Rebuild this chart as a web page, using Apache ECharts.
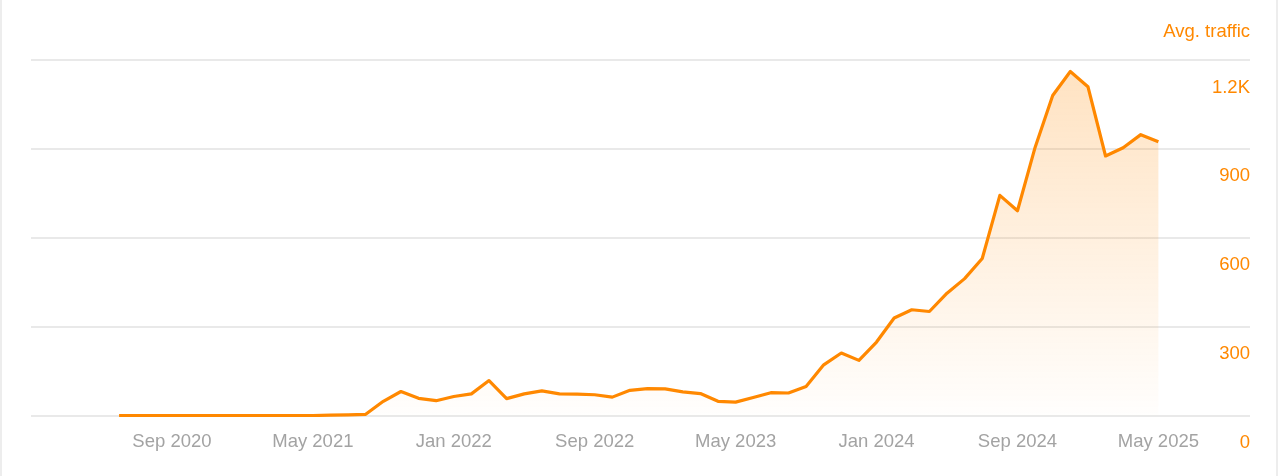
<!DOCTYPE html>
<html>
<head>
<meta charset="utf-8">
<script src="https://cdn.jsdelivr.net/npm/echarts@6/dist/echarts.min.js"></script>
<style>
  html, body { margin: 0; padding: 0; background: #fff; }
  #wrap { position: relative; width: 1280px; height: 476px; box-sizing: border-box; }
  #bl { position: absolute; left: 0; top: 0; width: 2px; height: 476px; background: #ededed; }
  #br { position: absolute; left: 1276px; top: 0; width: 2px; height: 476px; background: #ededed; }
  #chart { position: absolute; left: 0; top: 0; width: 1280px; height: 476px; }
</style>
</head>
<body>
<div id="wrap"><div id="chart"></div><div id="bl"></div><div id="br"></div></div>
<script>
// Monthly points, Jun 2020 .. May 2025
const months = [
  'Jun 2020','Jul 2020','Aug 2020','Sep 2020','Oct 2020','Nov 2020','Dec 2020',
  'Jan 2021','Feb 2021','Mar 2021','Apr 2021','May 2021','Jun 2021','Jul 2021','Aug 2021','Sep 2021','Oct 2021','Nov 2021','Dec 2021',
  'Jan 2022','Feb 2022','Mar 2022','Apr 2022','May 2022','Jun 2022','Jul 2022','Aug 2022','Sep 2022','Oct 2022','Nov 2022','Dec 2022',
  'Jan 2023','Feb 2023','Mar 2023','Apr 2023','May 2023','Jun 2023','Jul 2023','Aug 2023','Sep 2023','Oct 2023','Nov 2023','Dec 2023',
  'Jan 2024','Feb 2024','Mar 2024','Apr 2024','May 2024','Jun 2024','Jul 2024','Aug 2024','Sep 2024','Oct 2024','Nov 2024','Dec 2024',
  'Jan 2025','Feb 2025','Mar 2025','Apr 2025','May 2025'
];
const avgTraffic = [
  0,0,0,0,0,0,0,
  0,0,0,0,0,1,2,4,48,81,58,50,
  64,73,118,57,73,83,73,72,70,62,85,91,
  90,80,74,48,45,61,77,76,98,171,211,186,
  248,329,357,351,413,462,530,743,691,905,1080,1161,
  1110,876,904,948,924
];
// x-axis month index: 0 = Jan 2020
const firstMonthIndex = 5;
const xTickLabels = ['Sep 2020','May 2021','Jan 2022','Sep 2022','May 2023','Jan 2024','Sep 2024','May 2025'];
const xTickStep = 8;
const yTicks = [0, 300, 600, 900, 1200];
const seriesName = 'Avg. traffic';

const data = avgTraffic.map((v, i) => [firstMonthIndex + i, v]);

const chart = echarts.init(document.getElementById('chart'), null, { renderer: 'canvas' });
const FONT = 'Liberation Sans, Arial, sans-serif';
chart.setOption({
  animation: false,
  title: {
    text: seriesName,
    right: 30,
    top: 22.5,
    padding: 0,
    textStyle: { color: '#ff8800', fontFamily: FONT, fontSize: 18.5, fontWeight: 'normal' }
  },
  grid: { left: 31, right: 30, top: 60, bottom: 60.5, containLabel: false, outerBoundsMode: 'none' },
  xAxis: {
    type: 'value',
    min: 0,
    max: 69.2,
    interval: xTickStep,
    axisLine: { show: false },
    axisTick: { show: false },
    splitLine: { show: false },
    axisLabel: {
      color: '#a3a3a3',
      fontFamily: FONT,
      fontSize: 18.5,
      margin: 17,
      showMinLabel: true,
      showMaxLabel: true,
      formatter: function (v) {
        if (v % xTickStep !== 0) return '';
        const j = v / xTickStep - 1;
        return (j >= 0 && j < xTickLabels.length) ? xTickLabels[j] : '';
      }
    }
  },
  yAxis: {
    type: 'value',
    position: 'right',
    min: yTicks[0],
    max: yTicks[yTicks.length - 1],
    interval: 300,
    axisLine: { show: false },
    axisTick: { show: false },
    splitLine: { show: true, lineStyle: { color: '#e9e9e9', width: 2 } },
    axisLabel: {
      inside: true,
      margin: 0,
      color: '#ff8800',
      fontFamily: FONT,
      fontSize: 18.5,
      verticalAlign: 'top',
      padding: [18, 0, 0, 0],
      formatter: function (v) { return v >= 1000 ? (v / 1000) + 'K' : String(v); }
    }
  },
  series: [{
    name: seriesName,
    type: 'line',
    data: data,
    showSymbol: false,
    smooth: false,
    lineStyle: { color: '#ff8800', width: 3.2, join: 'round' },
    itemStyle: { color: '#ff8800' },
    areaStyle: {
      color: new echarts.graphic.LinearGradient(0, 0, 0, 1, [
        { offset: 0, color: 'rgba(255,136,0,0.34)' },
        { offset: 1, color: 'rgba(255,136,0,0.01)' }
      ])
    }
  }]
});
</script>
</body>
</html>
